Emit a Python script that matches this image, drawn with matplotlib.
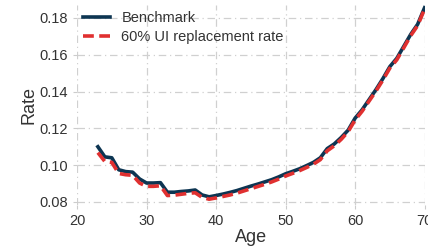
import numpy as np
import matplotlib
matplotlib.use('Agg')
import matplotlib.pyplot as plt

# Ages and hazard rates
age = list(range(23, 71))

benchmark = [0.1100, 0.1045, 0.1040, 0.0975, 0.0965, 0.0962, 0.0925, 0.0903,
             0.0903, 0.0905, 0.0853, 0.0853, 0.0857, 0.0860, 0.0865, 0.0838,
             0.0828, 0.0835, 0.0843, 0.0852, 0.0862, 0.0874, 0.0886, 0.0897,
             0.0909, 0.0921, 0.0936, 0.0953, 0.0966, 0.0980, 0.0997, 0.1015,
             0.1040, 0.1090, 0.1115, 0.1150, 0.1190, 0.1255, 0.1300, 0.1355,
             0.1410, 0.1470, 0.1535, 0.1580, 0.1645, 0.1710, 0.1765, 0.1855]

ui60 = [0.1068, 0.1020, 0.1015, 0.0955, 0.0948, 0.0945, 0.0903, 0.0885,
        0.0885, 0.0888, 0.0835, 0.0837, 0.0842, 0.0847, 0.0850, 0.0825,
        0.0815, 0.0822, 0.0830, 0.0838, 0.0848, 0.0860, 0.0872, 0.0884,
        0.0896, 0.0909, 0.0924, 0.0941, 0.0955, 0.0970, 0.0987, 0.1005,
        0.1030, 0.1078, 0.1105, 0.1140, 0.1182, 0.1245, 0.1292, 0.1347,
        0.1402, 0.1462, 0.1527, 0.1572, 0.1637, 0.1703, 0.1758, 0.1848]

plt.rcParams['font.family'] = ['Liberation Sans', 'DejaVu Sans']

fig = plt.figure(figsize=(4.28, 2.49), dpi=100)
ax = fig.add_axes([0.18, 0.177, 0.812, 0.803])

ax.plot(age, benchmark, color='#0d3552', lw=2.6, label='Benchmark')
ax.plot(age, ui60, color='#e03030', lw=2.6, ls=(0, (3, 1.5)), label='60% UI replacement rate')

ax.set_xlim(20, 70)
ax.set_ylim(0.0784, 0.187)
ax.set_xticks([20, 30, 40, 50, 60, 70])
ax.set_yticks([0.08, 0.10, 0.12, 0.14, 0.16, 0.18])
ax.set_yticklabels(['0.08', '0.10', '0.12', '0.14', '0.16', '0.18'])

ax.grid(True, color='#d0d0d0', ls=(0, (6, 3, 1, 3)), lw=0.9)
ax.set_axisbelow(True)
for s in ax.spines.values():
    s.set_visible(False)
ax.tick_params(axis='both', labelsize=10.5, colors='#333333', length=3, color='#cccccc')

ax.set_xlabel('Age', fontsize=13, color='#333333', labelpad=1)
ax.set_ylabel('Rate', fontsize=13, color='#333333', labelpad=1)

ax.legend(loc='upper left', bbox_to_anchor=(0.01, 0.985), frameon=False,
          fontsize=10.5, handlelength=1.8, handletextpad=0.8, labelspacing=0.35,
          borderaxespad=0.0, borderpad=0.2, labelcolor='#333333')

fig.savefig('out.png', dpi=100)
